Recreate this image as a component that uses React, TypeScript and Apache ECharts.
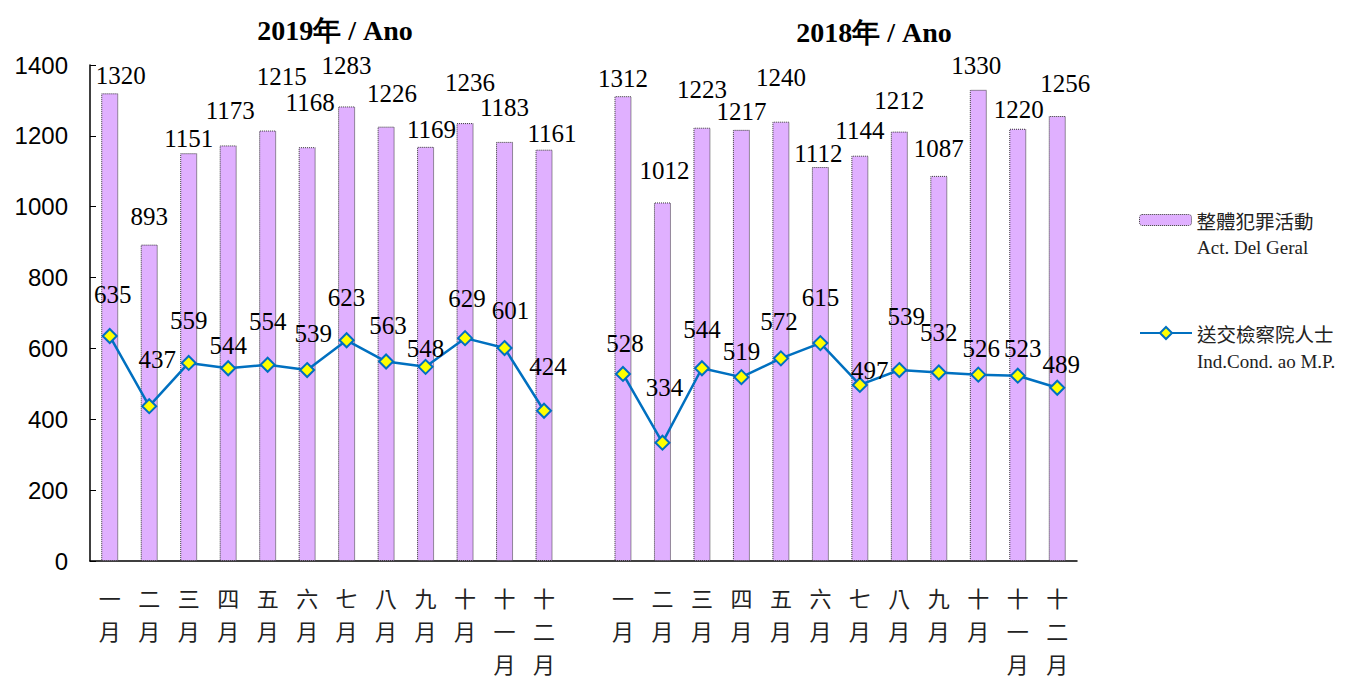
import React, { useEffect, useRef } from "react";
import * as echarts from "echarts";

const months2019 = ["一\n月", "二\n月", "三\n月", "四\n月", "五\n月", "六\n月", "七\n月", "八\n月", "九\n月", "十\n月", "十\n一\n月", "十\n二\n月"];
const months2018 = ["一\n月", "二\n月", "三\n月", "四\n月", "五\n月", "六\n月", "七\n月", "八\n月", "九\n月", "十\n月", "十\n一\n月", "十\n二\n月"];

const crime2019 = [1320, 893, 1151, 1173, 1215, 1168, 1283, 1226, 1169, 1236, 1183, 1161];
const crime2018 = [1312, 1012, 1223, 1217, 1240, 1112, 1144, 1212, 1087, 1330, 1220, 1256];
const sent2019 = [635, 437, 559, 544, 554, 539, 623, 563, 548, 629, 601, 424];
const sent2018 = [528, 334, 544, 519, 572, 615, 497, 539, 532, 526, 523, 489];

const yTicks = { min: 0, max: 1400, interval: 200 };

const seriesBarName = "整體犯罪活動";
const seriesLineName = "送交檢察院人士";
const barNamePt = "Act. Del Geral";
const lineNamePt = "Ind.Cond. ao M.P.";
const title2019 = "2019年 / Ano";
const title2018 = "2018年 / Ano";

// label placement offsets (layout only)
const barLabelDx = [11, 0, 0, 2, 14, 3, 0, 6, 6, 5, 0, 8, null, 0, 2, 0, 0, 0, -2, 0, 0, 0, -2, 1, 8];
const barLabelDy = [-5, -16, -2, -22, -42, -32, -28, -21, -5, -28, -22, -4, null, -5, -19, -26, -6, -32, -1, -13, -19, -15, -12, -7, -20];
const lineLabelDx = [3, 8, 0, 0, 0, 6, 0, 2, 0, 2, 6, 4, null, 2, 2, 0, 0, -2, 0, 10, 7, 0, 3, 5, 4];
const lineLabelDy = [-21, -26, -22, -2, -23, -16, -22, -16, 2, -19, -17, -24, null, -10, -35, -18, -5, -16, -25, 6, -33, -20, -6, -7, -3];

const categories = [...months2019, "", ...months2018];
const barValues: (number | null)[] = [...crime2019, null, ...crime2018];
const lineValues: (number | null)[] = [...sent2019, null, ...sent2018];

export default function App() {
  const ref = useRef<HTMLDivElement>(null);
  useEffect(() => {
    if (!ref.current) return;
    const chart = echarts.init(ref.current, null, { renderer: "svg" });
    const barData = barValues.map((v, i) =>
      v == null ? "-" : { value: v, label: { offset: [barLabelDx[i], barLabelDy[i]] } }
    );
    const lineData = lineValues.map((v, i) =>
      v == null ? "-" : { value: v, label: { offset: [lineLabelDx[i], lineLabelDy[i]] } }
    );
    const serif = "'Liberation Serif', 'Times New Roman', serif";
    const legendText = { fontFamily: "'Noto Sans CJK TC', sans-serif", fontSize: 19.5, color: "#222", lineHeight: 22 };
    chart.setOption({
      animation: false,
      backgroundColor: "#fff",
      title: [
        { text: title2019, left: 330, top: 11, textAlign: "center", textStyle: { fontFamily: serif, fontWeight: "bold", fontSize: 28, color: "#000" } },
        { text: title2018, left: 869, top: 13, textAlign: "center", textStyle: { fontFamily: serif, fontWeight: "bold", fontSize: 28, color: "#000" } },
      ],
      grid: { left: 90, right: 272, top: 65, bottom: 115, containLabel: false },
      legend: [
        {
          orient: "vertical",
          left: 1134,
          top: 204,
          itemWidth: 52,
          itemHeight: 11,
          data: [{ name: seriesBarName, itemStyle: { borderColor: "#333", borderWidth: 1, borderType: "dotted" } }],
          textStyle: legendText,
        },
        {
          orient: "vertical",
          left: 1134,
          top: 317,
          itemWidth: 52,
          itemHeight: 15,
          data: [{ name: seriesLineName }],
          textStyle: legendText,
        },
      ],
      graphic: [
        { type: "text", x: 1197, y: 247, style: { text: barNamePt, font: `19px ${serif}`, fill: "#222", textVerticalAlign: "middle" } },
        { type: "text", x: 1197, y: 361, style: { text: lineNamePt, font: `19px ${serif}`, fill: "#222", textVerticalAlign: "middle" } },
      ],
      xAxis: {
        type: "category",
        data: categories,
        boundaryGap: true,
        axisLine: { lineStyle: { color: "#000", width: 1.5 } },
        axisTick: { inside: true, length: 8, interval: 0, lineStyle: { color: "#000" } },
        axisLabel: {
          interval: 0,
          margin: 19,
          fontSize: 22,
          lineHeight: 33,
          color: "#222",
          fontFamily: "'Noto Sans CJK TC', sans-serif",
          verticalAlign: "top",
        },
      },
      yAxis: {
        type: "value",
        min: yTicks.min,
        max: yTicks.max,
        interval: yTicks.interval,
        splitLine: { show: false },
        axisLine: { show: true, lineStyle: { color: "#000", width: 1.5 } },
        axisTick: { show: true, inside: true, length: 6, lineStyle: { color: "#000" } },
        axisLabel: { margin: 22, fontSize: 24, color: "#000", fontFamily: "'Liberation Sans', Arial, sans-serif", formatter: (v: number) => String(v) },
      },
      series: [
        {
          name: seriesBarName,
          type: "bar",
          data: barData,
          barWidth: 17,
          itemStyle: { color: "#E0B0FF", borderColor: "#333", borderWidth: 1, borderType: "dotted" },
          label: { show: true, position: "top", distance: 0, fontSize: 25, fontFamily: serif, color: "#000" },
          z: 2,
        },
        {
          name: seriesLineName,
          type: "line",
          data: lineData,
          connectNulls: false,
          symbol: "diamond",
          symbolSize: 14,
          lineStyle: { color: "#0070C0", width: 2.5 },
          itemStyle: { color: "#FFFF00", borderColor: "#0070C0", borderWidth: 2 },
          label: { show: true, position: "top", distance: 0, fontSize: 25, fontFamily: serif, color: "#000" },
          z: 3,
        },
      ],
    });
    return () => chart.dispose();
  }, []);
  return <div ref={ref} style={{ position: "fixed", left: 0, top: 0, width: 1349, height: 679 }} />;
}
